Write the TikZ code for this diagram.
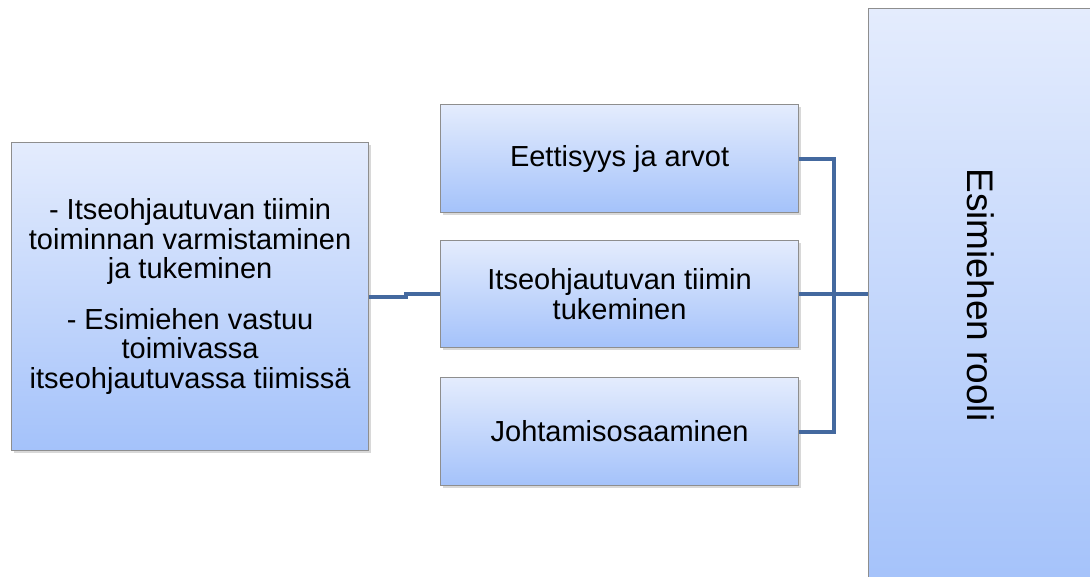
\documentclass[tikz,border=0pt]{standalone}
\usepackage{fontspec}
\setmainfont{Liberation Sans}
\usetikzlibrary{shadows}
\definecolor{boxtop}{HTML}{E4ECFD}
\definecolor{boxbot}{HTML}{A4C2FA}
\definecolor{boxline}{HTML}{8E8E8E}
\definecolor{connc}{HTML}{44699F}
\begin{document}
\begin{tikzpicture}[x=1pt,y=-1pt,
  gbox/.style={rectangle, draw=boxline, line width=1.2pt, top color=boxtop, bottom color=boxbot,
    anchor=north west, inner sep=0pt, align=center, font=\fontsize{29}{29.5}\selectfont,
    drop shadow={shadow xshift=2pt, shadow yshift=-2.5pt, opacity=0.3}},
  connl/.style={draw=connc, line width=4pt}]
\useasboundingbox (0,0) rectangle (1090,577);
\fill[white] (0,0) rectangle (1090,577);
\begin{scope}
\clip (0,0) rectangle (1090,577);
\node[gbox, minimum width=226pt, minimum height=580pt] (R) at (868,8) {};
\end{scope}
\node[font=\fontsize{37}{40}\selectfont, rotate=-90, inner sep=0pt] (Rt) at (981,295) {Esimiehen rooli};
\node[gbox, minimum width=357pt, minimum height=308pt] (L) at (11,142)
  {- Itseohjautuvan tiimin\\toiminnan varmistaminen\\ja tukeminen\\[21pt]- Esimiehen vastuu\\toimivassa\\itseohjautuvassa tiimissä};
\node[gbox, minimum width=358pt, minimum height=108pt] (M1) at (440,104) {Eettisyys ja arvot};
\node[gbox, minimum width=358pt, minimum height=107pt] (M2) at (440,240) {Itseohjautuvan tiimin\\tukeminen};
\node[gbox, minimum width=358pt, minimum height=108pt] (M3) at (440,377) {Johtamisosaaminen};
\draw[connl] (L.east) -- ++(37,0) |- (M2.west);
\draw[connl] (M1.east) -- ++(35,0) |- (M3.east);
\draw[connl] (M2.east) -- (M2.east -| R.west);
\end{tikzpicture}
\end{document}
